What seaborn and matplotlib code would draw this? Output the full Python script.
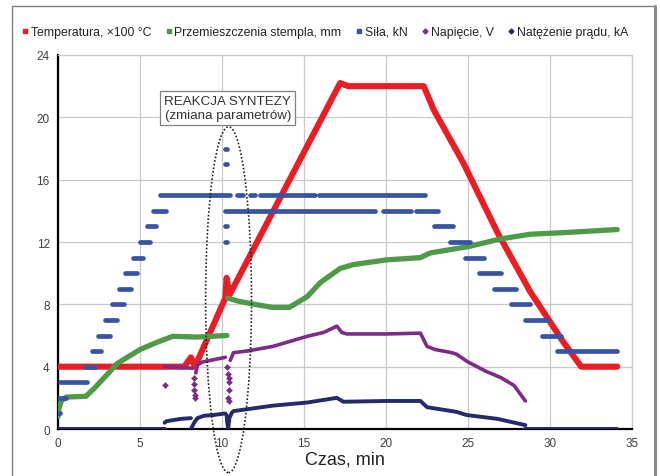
import pandas as pd
import matplotlib.pyplot as plt
import seaborn as sns
from matplotlib.lines import Line2D
from matplotlib.patches import Ellipse, Rectangle

# Temperatura (x100 C)
temp_t = [0, 7.7, 8.1, 8.35, 10.2, 10.28, 10.45, 10.6, 17.2, 17.7, 22.3, 22.9, 24.7, 26.8, 28.8, 30.8, 31.9, 34.1]
temp_v = [4.0, 4.0, 4.6, 4.0, 8.4, 9.7, 8.6, 8.9, 22.2, 22.0, 22.0, 20.5, 17.1, 12.6, 8.8, 5.6, 4.0, 4.0]

# Przemieszczenia stempla (mm), two pieces
disp1_t = [0, 0.05, 0.2, 0.5, 1.7, 2.2, 3.0, 3.6, 5.0, 6.0, 7.0, 8.5, 10.3]
disp1_v = [0.8, 1.3, 1.8, 2.05, 2.1, 2.6, 3.5, 4.2, 5.1, 5.55, 5.95, 5.9, 6.0]
disp2_t = [10.35, 11.0, 12.0, 13.1, 14.1, 15.2, 16.0, 17.2, 18.0, 19.0, 20.0, 22.1, 22.7, 25.0, 27.0, 28.8, 30.8, 34.1]
disp2_v = [8.4, 8.2, 8.0, 7.8, 7.8, 8.5, 9.4, 10.3, 10.55, 10.7, 10.85, 11.0, 11.3, 11.7, 12.2, 12.5, 12.6, 12.8]

# Sila (kN): level, from, to
force_lvl = [1, 2, 3, 4, 5, 6, 7, 8, 9, 10, 11, 12, 13, 14,
             15, 15, 15, 15, 15, 14, 14, 14,
             18, 17, 13, 12,
             13, 12, 11, 10, 9, 8, 7, 6, 5]
force_t0 = [0.0, 0.0, 0.1, 1.65, 2.05, 2.45, 2.85, 3.3, 3.7, 4.1, 4.55, 5.0, 5.4, 5.8,
            6.2, 10.9, 11.7, 12.3, 15.9, 10.2, 19.8, 21.8,
            10.2, 10.2, 10.2, 10.2,
            22.9, 23.9, 24.8, 25.7, 26.6, 27.6, 28.5, 29.5, 30.4]
force_t1 = [0.1, 0.5, 1.75, 2.25, 2.65, 3.2, 3.6, 4.0, 4.45, 4.8, 5.2, 5.6, 6.0, 6.6,
            10.5, 11.3, 12.0, 15.7, 22.4, 19.3, 21.5, 23.2,
            10.32, 10.32, 10.32, 10.32,
            24.1, 25.1, 26.0, 27.0, 27.9, 28.8, 29.8, 30.7, 34.1]

# Napiecie (V)
volt_segs = [
    ([0, 6.5], [0, 0]),
    ([6.5, 7.5, 8.2], [4.0, 3.95, 3.9]),
    ([8.4, 8.5, 8.8, 9.5, 10.2], [3.6, 4.1, 4.3, 4.45, 4.6]),
    ([10.5, 10.7, 11.5, 13.1, 15.2, 16.2, 17.0, 17.3, 17.6, 20.0, 22.1, 22.5, 23.0, 24.0, 24.3, 25.0, 26.1, 27.0, 27.8, 28.5],
     [4.4, 4.9, 5.0, 5.3, 5.95, 6.2, 6.6, 6.2, 6.1, 6.1, 6.15, 5.3, 5.1, 4.9, 4.8, 4.3, 3.7, 3.3, 2.8, 1.8]),
    ([28.5, 34.1], [0, 0]),
]
volt_pts_t = [6.5, 8.28, 8.3, 8.32, 8.33, 8.35, 10.3, 10.35, 10.4, 10.45, 10.45, 10.35, 10.45]
volt_pts_v = [2.8, 3.3, 2.9, 2.5, 2.2, 2.0, 4.0, 3.5, 3.3, 3.0, 2.5, 2.0, 1.8]

# Natezenie pradu (kA)
curr_segs = [
    ([0, 6.5], [0, 0]),
    ([6.5, 6.6, 7.5, 8.1], [0.4, 0.5, 0.65, 0.7]),
    ([8.1, 8.3, 8.5, 8.9, 9.5, 10.2], [0.0, 0.4, 0.7, 0.85, 0.9, 1.0]),
    ([10.28, 10.32, 10.38, 10.45, 10.6, 10.7, 13.1, 15.2, 17.0, 17.4, 20.0, 22.1, 22.5, 24.3, 24.9, 26.8, 28.5],
     [0.9, 0.4, 0.05, 0.7, 1.05, 1.15, 1.5, 1.7, 2.0, 1.75, 1.8, 1.8, 1.4, 1.1, 0.9, 0.65, 0.25]),
    ([28.5, 34.1], [0, 0]),
]

c_temp = '#ec1c24'
c_disp = '#4f9a48'
c_force = '#3853a4'
c_volt = '#7d2b87'
c_curr = '#252a6c'


def seg_frame(segs):
    rows = []
    for i, (ts, vs) in enumerate(segs):
        for t, v in zip(ts, vs):
            rows.append({'t': t, 'v': v, 'seg': i})
    return pd.DataFrame(rows)


sns.set_style('white')
plt.rcParams['font.family'] = ['Liberation Sans', 'DejaVu Sans']

fig = plt.figure(figsize=(6.6, 4.77), dpi=100)
ax = fig.add_axes([0.0879, 0.0985, 0.8697, 0.7841])

temp_df = pd.DataFrame({'t': temp_t, 'v': temp_v})
sns.lineplot(data=temp_df, x='t', y='v', sort=False, color=c_temp, lw=4.4, ax=ax, zorder=3)

disp_df = seg_frame([(disp1_t, disp1_v), (disp2_t, disp2_v)])
sns.lineplot(data=disp_df, x='t', y='v', units='seg', estimator=None, sort=False,
             color=c_disp, lw=3.8, ax=ax, zorder=4)

force_df = seg_frame([([a, b], [l, l]) for l, a, b in zip(force_lvl, force_t0, force_t1)])
sns.lineplot(data=force_df, x='t', y='v', units='seg', estimator=None, sort=False,
             color=c_force, lw=3.4, ax=ax, zorder=5, solid_capstyle='round')

volt_df = seg_frame(volt_segs)
sns.lineplot(data=volt_df, x='t', y='v', units='seg', estimator=None, sort=False,
             color=c_volt, lw=2.6, ax=ax, zorder=6)
sns.scatterplot(x=volt_pts_t, y=volt_pts_v, marker='D', s=10, color=c_volt,
                edgecolor=c_volt, ax=ax, zorder=6)

curr_df = seg_frame(curr_segs)
sns.lineplot(data=curr_df, x='t', y='v', units='seg', estimator=None, sort=False,
             color=c_curr, lw=2.8, ax=ax, zorder=7)

ax.set_xlim(0, 35)
ax.set_ylim(0, 24)
ax.set_xticks(range(0, 36, 5))
ax.set_yticks(range(0, 25, 4))
ax.grid(True, color='#c8c8c8', lw=0.9)
ax.set_axisbelow(True)
for s in ['top', 'right']:
    ax.spines[s].set_color('#c8c8c8')
    ax.spines[s].set_linewidth(0.9)
for s in ['left', 'bottom']:
    ax.spines[s].set_color('black')
    ax.spines[s].set_linewidth(1.6)
ax.tick_params(axis='both', direction='out', length=3, width=1.2, color='black',
               labelsize=8.5, labelcolor='#404040', pad=3)
ax.set_xlabel('Czas, min', fontsize=13, color='#222222', labelpad=1)
ax.set_ylabel('')

# annotation
ax.text(10.35, 20.6, 'REAKCJA SYNTEZY\n(zmiana parametrów)', ha='center', va='center',
        fontsize=9.6, color='#333333', linespacing=1.3, zorder=10,
        bbox=dict(boxstyle='square,pad=0.3', fc='white', ec='#808080', lw=0.9))
ell = Ellipse((10.4, 8.3), 2.8, 22.2, fill=False, ls=(0, (1, 1.2)), lw=1.2,
              ec='#222222', clip_on=False, zorder=9)
ax.add_patch(ell)

# legend
handles = [
    Line2D([], [], ls='none', marker='s', ms=3.5, color=c_temp),
    Line2D([], [], ls='none', marker='s', ms=3.5, color=c_disp),
    Line2D([], [], ls='none', marker='s', ms=3.5, color=c_force),
    Line2D([], [], ls='none', marker='D', ms=2.5, color=c_volt),
    Line2D([], [], ls='none', marker='D', ms=2.5, color=c_curr),
]
labels = ['Temperatura, ×100 °C', 'Przemieszczenia stempla, mm', 'Siła, kN',
          'Napięcie, V', 'Natężenie prądu, kA']
fig.legend(handles, labels, loc='center', bbox_to_anchor=(0.492, 0.931), ncol=5,
           frameon=False, fontsize=8.8, handlelength=0.6, handletextpad=0.15,
           columnspacing=1.15, labelcolor='#222222')

# outer frame
fig.patches.append(Rectangle((0.018, -0.05), 0.974, 1.035, transform=fig.transFigure,
                             fill=False, ec='#808080', lw=1.0))
fig.add_artist(Line2D([0.992, 0.992], [-0.05, 0.985], transform=fig.transFigure,
                      color='#8a8a8a', lw=2.2))

fig.savefig('out.png', dpi=100)
